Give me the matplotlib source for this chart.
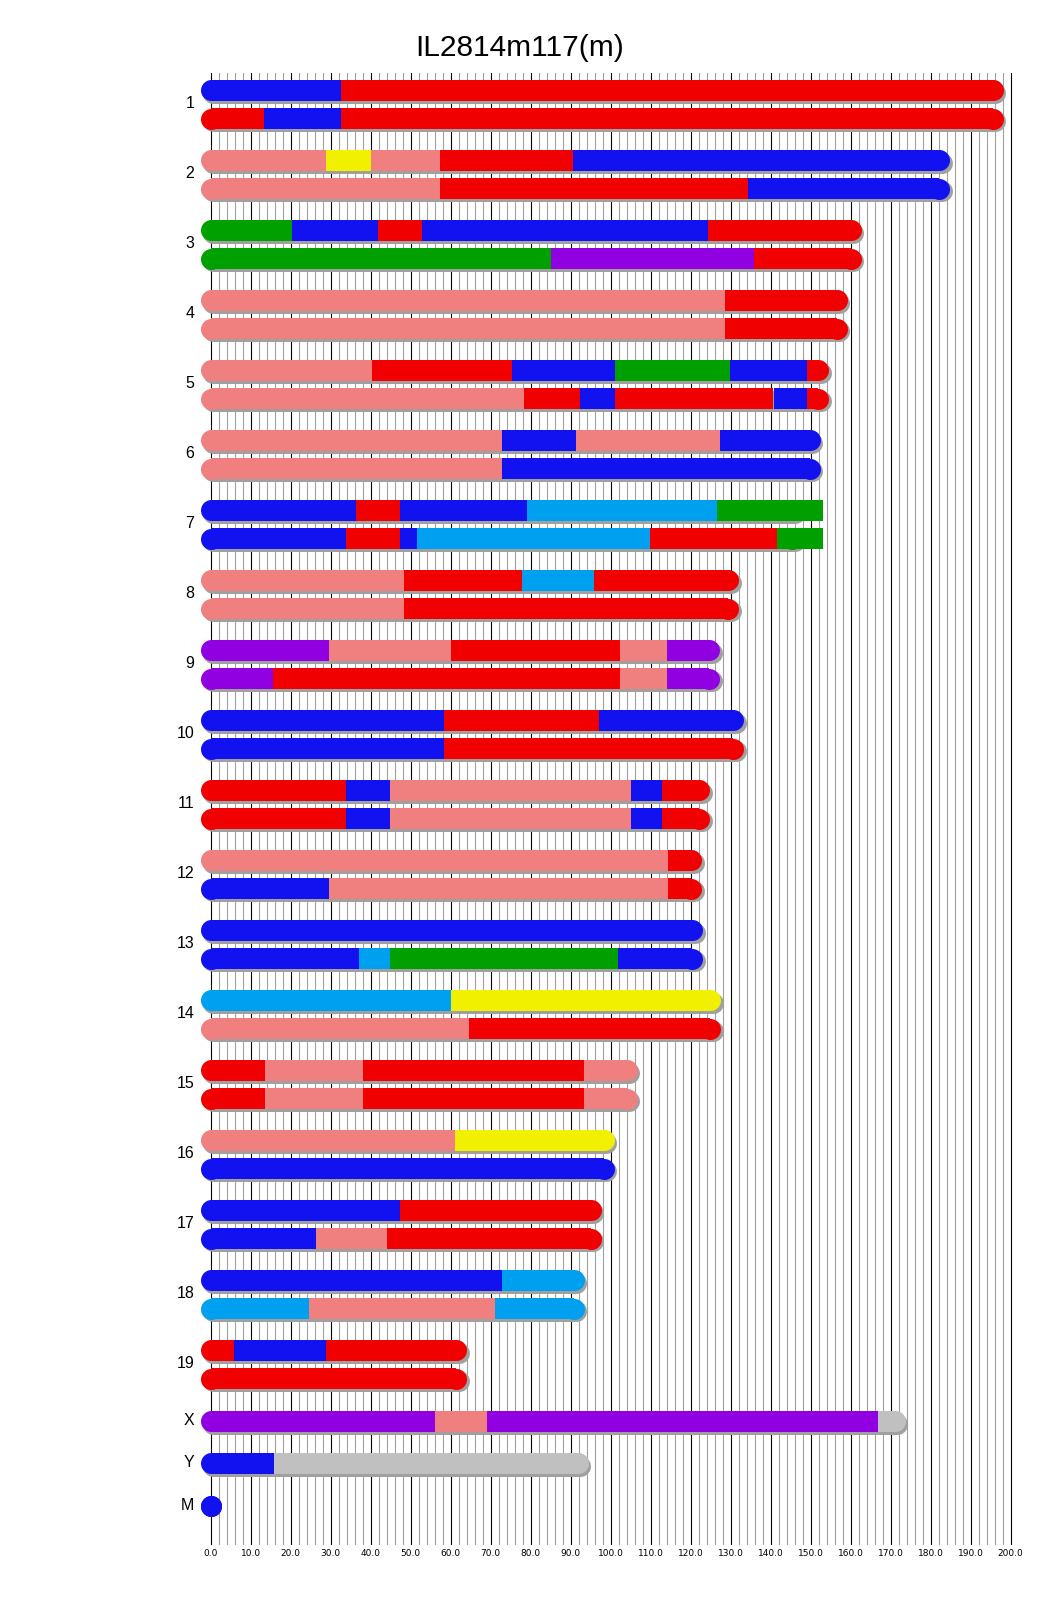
import matplotlib
matplotlib.use("Agg")
import matplotlib.pyplot as plt
import matplotlib.transforms as mtransforms
from matplotlib.ticker import FixedLocator

title = "IL2814m117(m)"

chrom_names = ["1", "2", "3", "4", "5", "6", "7", "8", "9", "10", "11", "12",
               "13", "14", "15", "16", "17", "18", "19", "X", "Y", "M"]
chrom_len = [195.47, 182.11, 160.04, 156.51, 151.83, 149.74, 145.44, 129.40,
             124.60, 130.69, 122.08, 120.13, 120.42, 124.90, 104.04, 98.21,
             94.99, 90.70, 61.43, 171.03, 91.74, 0.016]

# segment boundaries (Mb) for each haplotype bar of each chromosome
breaks = [
    [[0, 32.6, 195.47], [0, 13.3, 32.6, 195.47]],
    [[0, 28.7, 40.1, 57.3, 90.6, 182.11], [0, 57.3, 134.4, 182.11]],
    [[0, 20.3, 41.7, 52.7, 124.4, 160.04], [0, 85.0, 135.7, 160.04]],
    [[0, 128.5, 156.51], [0, 128.5, 156.51]],
    [[0, 40.4, 75.2, 101.1, 129.8, 149.0, 151.83],
     [0, 78.2, 92.3, 101.1, 140.7, 149.0, 151.83]],
    [[0, 72.9, 91.3, 127.3, 149.74], [0, 72.9, 149.74]],
    [[0, 36.3, 47.3, 79.1, 126.6, 153.0], [0, 33.8, 47.3, 51.6, 109.8, 141.6, 153.0]],
    [[0, 48.4, 77.7, 95.8, 129.40], [0, 48.4, 129.40]],
    [[0, 29.5, 60.0, 102.2, 114.1, 124.60], [0, 15.6, 102.2, 114.1, 124.60]],
    [[0, 58.2, 97.1, 130.69], [0, 58.2, 130.69]],
    [[0, 33.9, 44.7, 105.1, 112.8, 122.08], [0, 33.9, 44.7, 105.1, 112.8, 122.08]],
    [[0, 114.3, 120.13], [0, 29.5, 114.3, 120.13]],
    [[0, 120.42], [0, 37.0, 44.7, 101.7, 120.42]],
    [[0, 60.0, 124.90], [0, 64.6, 124.90]],
    [[0, 13.6, 38.0, 93.2, 104.04], [0, 13.6, 38.0, 93.2, 104.04]],
    [[0, 61.0, 98.21], [0, 98.21]],
    [[0, 47.3, 94.99], [0, 26.4, 44.0, 94.99]],
    [[0, 72.8, 90.70], [0, 24.6, 71.0, 90.70]],
    [[0, 5.8, 28.8, 61.43], [0, 61.43]],
    [[0, 56.1, 69.0, 166.9, 171.03]],
    [[0, 15.7, 91.74]],
    [[0, 0.016]],
]

# haplotype of each segment
haps = [
    ["B", "R"], ["R", "B", "R"],
    ["P", "Y", "P", "R", "B"], ["P", "R", "B"],
    ["G", "B", "R", "B", "R"], ["G", "V", "R"],
    ["P", "R"], ["P", "R"],
    ["P", "R", "B", "G", "B", "R"], ["P", "R", "B", "R", "B", "R"],
    ["P", "B", "P", "B"], ["P", "B"],
    ["B", "R", "B", "L", "G"], ["B", "R", "B", "L", "R", "G"],
    ["P", "R", "L", "R"], ["P", "R"],
    ["V", "P", "R", "P", "V"], ["V", "R", "P", "V"],
    ["B", "R", "B"], ["B", "R"],
    ["R", "B", "P", "B", "R"], ["R", "B", "P", "B", "R"],
    ["P", "R"], ["B", "P", "R"],
    ["B"], ["B", "L", "G", "B"],
    ["L", "Y"], ["P", "R"],
    ["R", "P", "R", "P"], ["R", "P", "R", "P"],
    ["P", "Y"], ["B"],
    ["B", "R"], ["B", "P", "R"],
    ["B", "L"], ["L", "P", "L"],
    ["R", "B", "R"], ["R"],
    ["V", "P", "V", "N"],
    ["B", "N"],
    ["B"],
]

hap_colors = {"B": "#1212F0", "R": "#F00000", "P": "#F08080", "Y": "#F0F000",
              "G": "#00A000", "L": "#00A0F0", "V": "#9000E0", "N": "#C0C0C0"}

# layout in pixels
W, H = 1040, 1616
px_per_mb = 4.0
x0_px = 210.7
ax_left_px, ax_top_px, ax_bot_px = 200, 73, 1545
bar_h = 21
first_y, pair_gap, chrom_gap, single_gap = 90.3, 28.3, 70.0, 42.4

fig = plt.figure(figsize=(W / 100, H / 100), dpi=100)
ax = fig.add_axes([ax_left_px / W, 1 - ax_bot_px / H,
                   1 - ax_left_px / W, (ax_bot_px - ax_top_px) / H])
ax.set_xlim((ax_left_px - x0_px) / px_per_mb, (W - x0_px) / px_per_mb)
ax.set_ylim(ax_bot_px, ax_top_px)

shadow_tr = mtransforms.offset_copy(ax.transData, fig=fig, x=2.5, y=-2.5, units="dots")
lw_pt = bar_h * 72 / 100

label_y = []
bar_idx = 0
y = first_y
for i, name in enumerate(chrom_names):
    n = len(breaks[i])
    ys = []
    for k in range(n):
        b = breaks[i][k]
        h = haps[bar_idx]
        bar_idx += 1
        L = chrom_len[i]
        ax.plot([0, L], [y, y], color="#A0A0A0", lw=lw_pt, solid_capstyle="round",
                transform=shadow_tr, zorder=2, clip_on=False)
        ax.plot([0], [y], marker="o", ms=lw_pt, mew=0, color=hap_colors[h[0]],
                zorder=3, clip_on=False)
        ax.plot([L], [y], marker="o", ms=lw_pt, mew=0, color=hap_colors[h[-1]],
                zorder=3, clip_on=False)
        for j, code in enumerate(h):
            ax.barh(y, b[j + 1] - b[j], left=b[j], height=bar_h, color=hap_colors[code],
                    linewidth=0, zorder=4, clip_on=False)
        ys.append(y)
        if k < n - 1:
            y += pair_gap
    # labels sit a little above the pair's midpoint
    label_y.append(sum(ys) / len(ys) - 2)
    if i < 18:
        y += chrom_gap - pair_gap * (n - 1)
    else:
        y += single_gap

ax.set_yticks(label_y, chrom_names)
ax.xaxis.set_major_locator(FixedLocator(range(0, 201, 10)))
ax.xaxis.set_minor_locator(FixedLocator([v for v in range(2, 200, 2) if v % 10]))
ax.set_xticklabels([f"{v:.1f}" for v in range(0, 201, 10)])
ax.tick_params(axis="x", which="both", length=0, pad=3, labelsize=6.5)
ax.tick_params(axis="y", length=0, pad=4)
for t in ax.get_yticklabels():
    t.set_fontfamily("Liberation Sans")
    t.set_fontsize(11.5)
for t in ax.get_xticklabels():
    t.set_fontfamily("DejaVu Sans")
ax.grid(which="major", axis="x", color="black", lw=0.8)
ax.grid(which="minor", axis="x", color="#A0A0A0", lw=0.8)
ax.set_axisbelow(True)
for s in ax.spines.values():
    s.set_visible(False)

fig.text(0.5, 1 - 55.7 / H, title, ha="center", va="baseline",
         fontsize=21.5, family="Liberation Sans")

fig.savefig("out.png", dpi=100)
